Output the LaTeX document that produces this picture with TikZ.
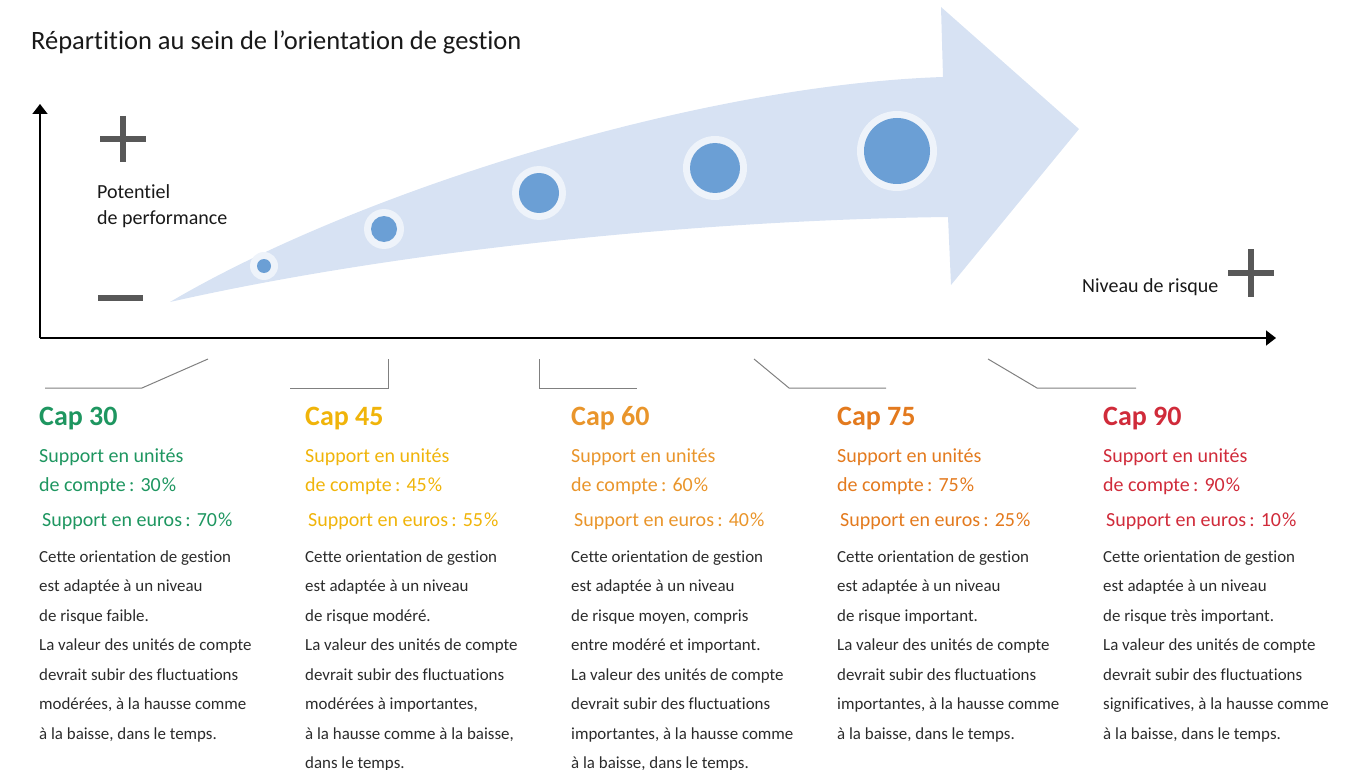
\documentclass[tikz,border=0pt]{standalone}
\usepackage{fontspec}
\setmainfont{Carlito}[Ligatures={TeX,NoCommon}]
\usetikzlibrary{arrows.meta}
\definecolor{capA}{HTML}{1E9660}
\definecolor{capB}{HTML}{F0B40A}
\definecolor{capC}{HTML}{E9952B}
\definecolor{capD}{HTML}{E37A1E}
\definecolor{capE}{HTML}{D02B3A}
\definecolor{bodygray}{HTML}{2B2B2B}
\definecolor{signgray}{HTML}{585858}
\definecolor{linegray}{HTML}{808080}
\definecolor{arrowfill}{HTML}{D7E2F3}
\definecolor{dotblue}{HTML}{6B9FD5}
\definecolor{halocol}{HTML}{EEF3FA}
\begin{document}
\begin{tikzpicture}[x=1pt,y=-1pt,
  lbl/.style={inner sep=0pt, anchor=base west, align=left},
  titletxt/.style={lbl, font=\fontsize{26.5}{30}\selectfont, text=black!90},
  axislbl/.style={lbl, font=\fontsize{20}{26}\selectfont, text=black!90},
  captxt/.style={lbl, font=\bfseries\fontsize{28}{32}\selectfont},
  suptxt/.style={lbl, font=\fontsize{20}{29}\selectfont},
  bodytxt/.style={lbl, font=\fontsize{16.9}{29.5}\selectfont, text=bodygray},
  axis/.style={line width=1.6pt, -{Triangle[length=10pt,width=15pt]}},
  sign/.style={line width=6pt, signgray},
  conn/.style={line width=1pt, linegray}]
\useasboundingbox (0,0) rectangle (1351,770);

% title
\node[titletxt] (title) at (31,50) {Répartition au sein de l’orientation de gestion};

% big arrow
\fill[arrowfill] (170,302) .. controls (360,190) and (700,85) .. (943,77)
  -- (941,7) -- (1079,129) -- (951,285) -- (948,217)
  .. controls (700,220) and (400,250) .. (170,302) -- cycle;

% dots
\foreach \x/\y/\r in {264/266/7, 384/229/13, 539/193/20, 715/168/25, 897/151/33}{
  \fill[halocol] (\x,\y) circle[radius=\r pt+7pt];
  \fill[dotblue] (\x,\y) circle[radius=\r pt];
}

% axes
\coordinate (origin) at (40,338);
\coordinate (ytip) at (40,104);
\coordinate (xtip) at (1276,338);
\draw[axis] (origin) -- (ytip);
\draw[axis] (origin) -- (xtip);

% signs
\draw[sign] (100,139) -- (146,139);
\draw[sign] (123,116) -- (123,162);
\draw[sign] (98,298) -- (143,298);
\draw[sign] (1228,273) -- (1274,273);
\draw[sign] (1251,249) -- (1251,297);

% multi-line nodes are anchored at the baseline of their last line
\node[axislbl] (perf) at (97,224) {Potentiel\\de performance};
\node[axislbl] (risk) at (1082,292) {Niveau de risque};

% connectors
\draw[conn] (208,359) -- (142,388) -- (45,388);
\draw[conn] (388,359) -- (388,388) -- (290,388);
\draw[conn] (539,359) -- (539,388) -- (637,388);
\draw[conn] (754,359) -- (789,388) -- (886,388);
\draw[conn] (988,359) -- (1037,388) -- (1136,388);

% columns
\foreach \n/\x/\col/\uc/\eu in {1/39/capA/30/70, 2/305/capB/45/55, 3/571/capC/60/40, 4/837/capD/75/25, 5/1103/capE/90/10}{
  \node[captxt, text=\col] (cap\n) at (\x,425) {Cap \uc};
  \node[suptxt, text=\col] (uc\n) at (\x,491) {Support en unités\\de compte\,: \uc\kern1pt\%};
  \node[suptxt, text=\col] (eu\n) at (\x+3,526) {Support en euros\,: \eu\kern1pt\%};
}

\node[bodytxt] (b1) at (39,739) {Cette orientation de gestion\\est adaptée à un niveau\\de risque faible.\\La valeur des unités de compte\\devrait subir des fluctuations\\modérées, à la hausse comme\\à la baisse, dans le temps.};
\node[bodytxt] (b2) at (305,768.5) {Cette orientation de gestion\\est adaptée à un niveau\\de risque modéré.\\La valeur des unités de compte\\devrait subir des fluctuations\\modérées à importantes,\\à la hausse comme à la baisse,\\dans le temps.};
\node[bodytxt] (b3) at (571,768.5) {Cette orientation de gestion\\est adaptée à un niveau\\de risque moyen, compris\\entre modéré et important.\\La valeur des unités de compte\\devrait subir des fluctuations\\importantes, à la hausse comme\\à la baisse, dans le temps.};
\node[bodytxt] (b4) at (837,739) {Cette orientation de gestion\\est adaptée à un niveau\\de risque important.\\La valeur des unités de compte\\devrait subir des fluctuations\\importantes, à la hausse comme\\à la baisse, dans le temps.};
\node[bodytxt] (b5) at (1103,739) {Cette orientation de gestion\\est adaptée à un niveau\\de risque très important.\\La valeur des unités de compte\\devrait subir des fluctuations\\significatives, à la hausse comme\\à la baisse, dans le temps.};
\end{tikzpicture}
\end{document}
